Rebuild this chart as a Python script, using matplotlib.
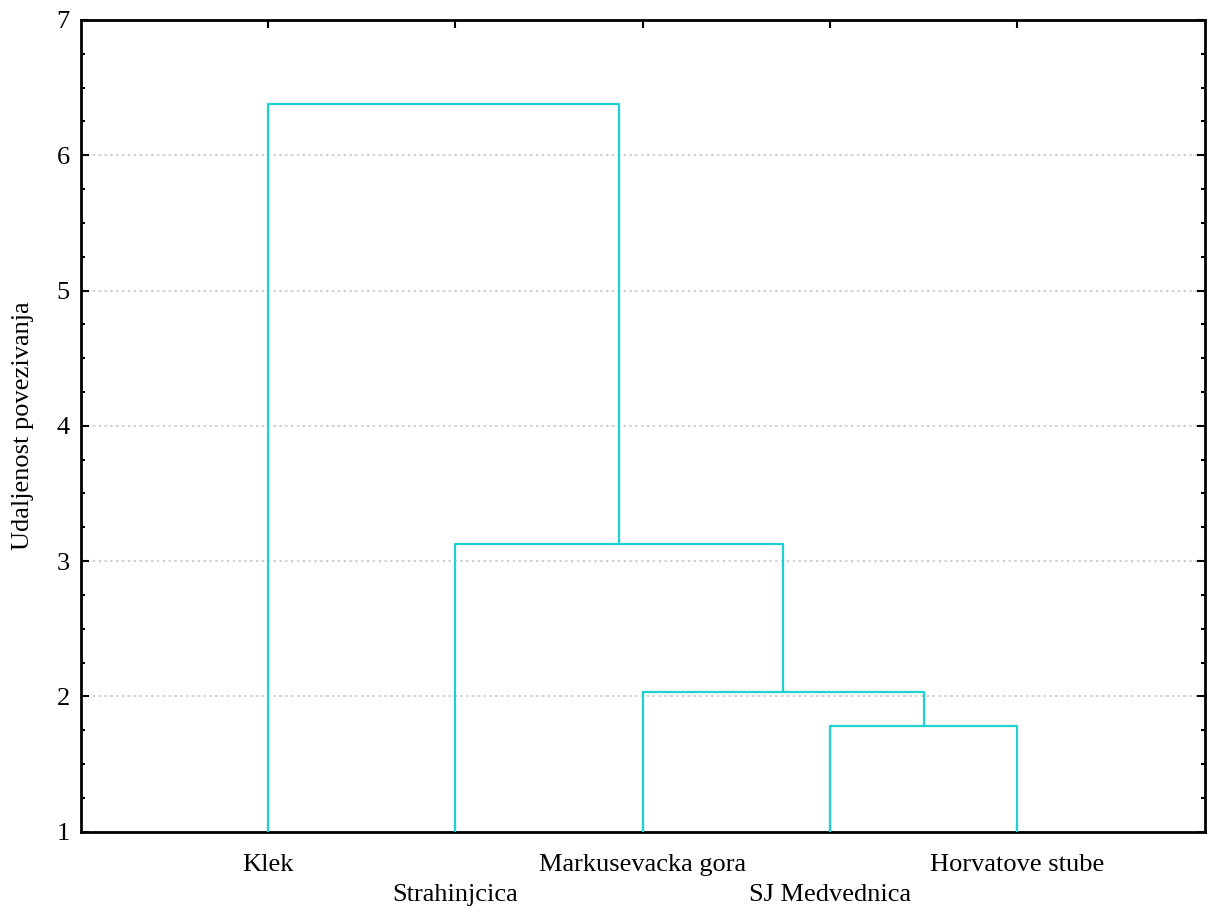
import matplotlib
matplotlib.use("Agg")
import matplotlib.pyplot as plt
from matplotlib.ticker import MultipleLocator

plt.rcParams['font.family'] = ['Liberation Serif', 'DejaVu Serif']

# leaves in plotted order
leaves = ['Klek', 'Strahinjcica', 'Markusevacka gora', 'SJ Medvednica', 'Horvatove stube']
# merges: (left cluster, right cluster, linkage distance)
# clusters 0..4 are leaves, 5.. are the merged clusters in order
merges = [
    (3, 4, 1.78),
    (2, 5, 2.03),
    (1, 6, 3.13),
    (0, 7, 6.38),
]

line_color = '#1fd2d2'

fig, ax = plt.subplots(figsize=(12.07, 9.07), dpi=100)
fig.subplots_adjust(left=0.067, right=0.998, top=0.978, bottom=0.083)

# position and height of each cluster
xpos = {i: i + 1 for i in range(len(leaves))}
height = {i: 1.0 for i in range(len(leaves))}
for k, (a, b, d) in enumerate(merges):
    new = len(leaves) + k
    ax.plot([xpos[a], xpos[a], xpos[b], xpos[b]],
            [height[a], d, d, height[b]],
            color=line_color, lw=1.6, zorder=3)
    xpos[new] = (xpos[a] + xpos[b]) / 2
    height[new] = d

ax.set_xlim(0, len(leaves) + 1)
ax.set_ylim(1, 7)
ax.set_xticks(range(1, len(leaves) + 1))
ax.set_xticklabels([name if i % 2 == 0 else '\n' + name for i, name in enumerate(leaves)])
for lab in ax.get_xticklabels():
    lab.set_linespacing(1.45)
ax.yaxis.set_major_locator(MultipleLocator(1))
ax.yaxis.set_minor_locator(MultipleLocator(0.25))

ax.tick_params(axis='both', which='both', direction='in', top=True, right=True,
               labelsize=19, width=1.5)
ax.tick_params(axis='both', which='major', length=6, pad=8)
ax.tick_params(axis='y', which='minor', length=3)
ax.tick_params(axis='x', which='major', pad=16)

ax.grid(axis='y', which='major', color='#c8c8c8', linestyle=(0, (1.5, 2)), lw=1.2, zorder=1)

for sp in ax.spines.values():
    sp.set_linewidth(2)

ax.set_ylabel('Udaljenost povezivanja', fontsize=19, labelpad=16)

fig.savefig('out.png', dpi=100)
